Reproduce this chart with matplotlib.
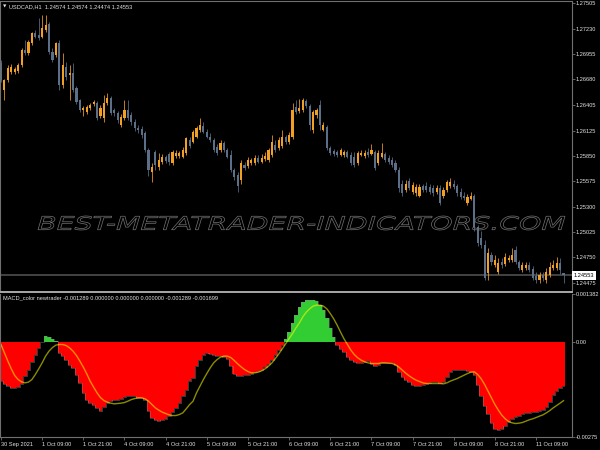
# encoding: utf-8
"""
    USDCAD H1 chart with the MACD_color newtrader sub window,
    drawn in the look of a MetaTrader 4 screenshot.
"""
import matplotlib
matplotlib.use('Agg')
import matplotlib.pyplot as plt
import numpy as np
from matplotlib.font_manager import FontProperties
from matplotlib.lines import Line2D
from matplotlib.patches import PathPatch
from matplotlib.textpath import TextPath
from matplotlib.transforms import Affine2D

# --- price bars (H1), oldest first --------------------------------------
opens = [
    1.2686, 1.2656, 1.2667, 1.2676, 1.2676, 1.2677, 1.2684, 1.2700, 1.2697, 1.2707,
    1.2718, 1.2716, 1.2714, 1.2722, 1.2728, 1.2698, 1.2694, 1.2707, 1.2662, 1.2681,
    1.2673, 1.2675, 1.2659, 1.2646, 1.2635, 1.2633, 1.2637, 1.2641, 1.2642, 1.2628,
    1.2626, 1.2642, 1.2648, 1.2635, 1.2632, 1.2618, 1.2626, 1.2635, 1.2629, 1.2622,
    1.2615, 1.2614, 1.2610, 1.2591, 1.2567, 1.2589, 1.2573, 1.2578, 1.2584, 1.2587,
    1.2577, 1.2585, 1.2585, 1.2584, 1.2588, 1.2602, 1.2600, 1.2606, 1.2613, 1.2617,
    1.2611, 1.2606, 1.2602, 1.2595, 1.2591, 1.2599, 1.2591, 1.2586, 1.2570, 1.2564,
    1.2559, 1.2575, 1.2574, 1.2577, 1.2577, 1.2583, 1.2578, 1.2582, 1.2580, 1.2586,
    1.2597, 1.2593, 1.2596, 1.2605, 1.2600, 1.2605, 1.2638, 1.2634, 1.2635, 1.2645,
    1.2639, 1.2613, 1.2629, 1.2640, 1.2613, 1.2616, 1.2593, 1.2590, 1.2589, 1.2586,
    1.2586, 1.2589, 1.2586, 1.2584, 1.2577, 1.2586, 1.2585, 1.2589, 1.2587, 1.2589,
    1.2577, 1.2584, 1.2587, 1.2583, 1.2580, 1.2577, 1.2570, 1.2554, 1.2548, 1.2558,
    1.2546, 1.2545, 1.2542, 1.2552, 1.2552, 1.2551, 1.2550, 1.2546, 1.2550, 1.2542,
    1.2548, 1.2552, 1.2555, 1.2552, 1.2546, 1.2542, 1.2534, 1.2538, 1.2541, 1.2508,
    1.2496, 1.2488, 1.2458, 1.2477, 1.2467, 1.2459, 1.2470, 1.2468, 1.2472, 1.2472,
    1.2483, 1.2470, 1.2461, 1.2463, 1.2467, 1.2462, 1.2455, 1.2450, 1.2456, 1.2450,
    1.2456, 1.2463, 1.2463, 1.2469, 1.24574]
highs = [
    1.2689, 1.2668, 1.2684, 1.2685, 1.2681, 1.2686, 1.2702, 1.2711, 1.2711, 1.2719,
    1.2722, 1.2735, 1.2738, 1.2738, 1.2730, 1.2702, 1.2709, 1.2711, 1.2697, 1.2687,
    1.2684, 1.2686, 1.2661, 1.2647, 1.2639, 1.2640, 1.2642, 1.2646, 1.2645, 1.2640,
    1.2651, 1.2653, 1.2650, 1.2637, 1.2634, 1.2630, 1.2646, 1.2646, 1.2633, 1.2625,
    1.2618, 1.2617, 1.2612, 1.2593, 1.2577, 1.2591, 1.2588, 1.2587, 1.2586, 1.2589,
    1.2591, 1.2591, 1.2590, 1.2595, 1.2606, 1.2605, 1.2613, 1.2617, 1.2626, 1.2622,
    1.2614, 1.2610, 1.2604, 1.2598, 1.2602, 1.2601, 1.2593, 1.2591, 1.2572, 1.2567,
    1.2580, 1.2578, 1.2584, 1.2583, 1.2586, 1.2586, 1.2587, 1.2589, 1.2593, 1.2608,
    1.2602, 1.2605, 1.2613, 1.2608, 1.2611, 1.2642, 1.2646, 1.2647, 1.2648, 1.2647,
    1.2641, 1.2635, 1.2637, 1.2646, 1.2622, 1.2618, 1.2596, 1.2592, 1.2591, 1.2593,
    1.2591, 1.2591, 1.2589, 1.2589, 1.2590, 1.2591, 1.2591, 1.2593, 1.2598, 1.2591,
    1.2591, 1.2599, 1.2589, 1.2586, 1.2584, 1.2580, 1.2573, 1.2559, 1.2559, 1.2561,
    1.2557, 1.2554, 1.2554, 1.2555, 1.2557, 1.2554, 1.2553, 1.2553, 1.2553, 1.2551,
    1.2559, 1.2561, 1.2559, 1.2555, 1.2550, 1.2546, 1.2544, 1.2546, 1.2544, 1.2510,
    1.2504, 1.2494, 1.2485, 1.2481, 1.2477, 1.2474, 1.2474, 1.2480, 1.2477, 1.2485,
    1.2487, 1.2472, 1.2470, 1.2470, 1.2470, 1.2465, 1.2459, 1.2459, 1.2459, 1.2463,
    1.2470, 1.2472, 1.2475, 1.2474, 1.24574]
lows = [
    1.2665, 1.2646, 1.2665, 1.2674, 1.2674, 1.2675, 1.2681, 1.2694, 1.2694, 1.2705,
    1.2713, 1.2711, 1.2713, 1.2719, 1.2696, 1.2687, 1.2692, 1.2656, 1.2659, 1.2667,
    1.2646, 1.2654, 1.2641, 1.2633, 1.2628, 1.2630, 1.2635, 1.2639, 1.2624, 1.2626,
    1.2622, 1.2640, 1.2629, 1.2628, 1.2621, 1.2616, 1.2624, 1.2624, 1.2618, 1.2612,
    1.2610, 1.2604, 1.2589, 1.2563, 1.2557, 1.2570, 1.2570, 1.2576, 1.2577, 1.2575,
    1.2575, 1.2583, 1.2583, 1.2583, 1.2586, 1.2593, 1.2599, 1.2604, 1.2611, 1.2610,
    1.2604, 1.2600, 1.2589, 1.2586, 1.2589, 1.2589, 1.2583, 1.2567, 1.2559, 1.2546,
    1.2555, 1.2570, 1.2572, 1.2575, 1.2575, 1.2577, 1.2577, 1.2579, 1.2578, 1.2584,
    1.2589, 1.2591, 1.2593, 1.2598, 1.2598, 1.2603, 1.2630, 1.2632, 1.2633, 1.2637,
    1.2613, 1.2610, 1.2626, 1.2613, 1.2612, 1.2591, 1.2586, 1.2585, 1.2584, 1.2585,
    1.2584, 1.2583, 1.2575, 1.2573, 1.2575, 1.2585, 1.2583, 1.2584, 1.2586, 1.2570,
    1.2575, 1.2583, 1.2578, 1.2576, 1.2573, 1.2567, 1.2546, 1.2542, 1.2546, 1.2548,
    1.2544, 1.2542, 1.2540, 1.2546, 1.2546, 1.2544, 1.2541, 1.2544, 1.2532, 1.2539,
    1.2546, 1.2550, 1.2549, 1.2542, 1.2538, 1.2537, 1.2532, 1.2537, 1.2504, 1.2487,
    1.2485, 1.2450, 1.2450, 1.2467, 1.2464, 1.2457, 1.2463, 1.2465, 1.2470, 1.2470,
    1.2468, 1.2461, 1.2459, 1.2461, 1.2459, 1.2450, 1.2447, 1.2447, 1.2449, 1.2447,
    1.2454, 1.2461, 1.2461, 1.2457, 1.24474]
closes = [
    1.2667, 1.2667, 1.2680, 1.2681, 1.2679, 1.2684, 1.2700, 1.2697, 1.2709, 1.2718,
    1.2714, 1.2713, 1.2724, 1.2727, 1.2698, 1.2689, 1.2707, 1.2662, 1.2684, 1.2671,
    1.2675, 1.2656, 1.2643, 1.2635, 1.2637, 1.2638, 1.2640, 1.2643, 1.2626, 1.2637,
    1.2642, 1.2648, 1.2632, 1.2632, 1.2624, 1.2627, 1.2635, 1.2626, 1.2622, 1.2615,
    1.2613, 1.2608, 1.2591, 1.2570, 1.2573, 1.2575, 1.2580, 1.2584, 1.2579, 1.2578,
    1.2589, 1.2588, 1.2588, 1.2591, 1.2604, 1.2596, 1.2611, 1.2615, 1.2618, 1.2611,
    1.2606, 1.2602, 1.2591, 1.2588, 1.2599, 1.2591, 1.2584, 1.2570, 1.2562, 1.2552,
    1.2577, 1.2572, 1.2580, 1.2580, 1.2583, 1.2578, 1.2583, 1.2585, 1.2591, 1.2600,
    1.2591, 1.2602, 1.2605, 1.2600, 1.2608, 1.2635, 1.2633, 1.2637, 1.2646, 1.2639,
    1.2618, 1.2633, 1.2635, 1.2618, 1.2618, 1.2593, 1.2588, 1.2587, 1.2586, 1.2591,
    1.2589, 1.2584, 1.2577, 1.2575, 1.2588, 1.2588, 1.2588, 1.2586, 1.2591, 1.2572,
    1.2588, 1.2588, 1.2580, 1.2578, 1.2575, 1.2570, 1.2550, 1.2545, 1.2554, 1.2550,
    1.2553, 1.2551, 1.2551, 1.2548, 1.2548, 1.2546, 1.2545, 1.2550, 1.2534, 1.2548,
    1.2557, 1.2557, 1.2551, 1.2545, 1.2540, 1.2539, 1.2540, 1.2542, 1.2508, 1.2490,
    1.2488, 1.2452, 1.2480, 1.2470, 1.2472, 1.2469, 1.2467, 1.2475, 1.2474, 1.2477,
    1.2470, 1.2463, 1.2467, 1.2467, 1.2461, 1.2452, 1.2450, 1.2456, 1.2452, 1.2459,
    1.2464, 1.2467, 1.2469, 1.2461, 1.24553]

# --- MACD_color newtrader: histogram and signal ---------------------------
hist = [
    -0.001136, -0.001205, -0.001280, -0.001321, -0.001329, -0.001309, -0.001205, -0.000991, -0.000801, -0.000578,
    -0.000367, -0.000173, -0.000009, 0.000182, 0.000136, 0.000087, 0.000038, -0.000318, -0.000413, -0.000512,
    -0.000656, -0.000751, -0.000945, -0.001185, -0.001474, -0.001668, -0.001763, -0.001812, -0.001908, -0.001986,
    -0.001879, -0.001763, -0.001714, -0.001685, -0.001685, -0.001647, -0.001590, -0.001552, -0.001552, -0.001569,
    -0.001610, -0.001627, -0.001685, -0.002003, -0.002197, -0.002263, -0.002283, -0.002263, -0.002217, -0.002147,
    -0.002032, -0.001908, -0.001763, -0.001569, -0.001379, -0.001136, -0.001040, -0.000702, -0.000512, -0.000376,
    -0.000318, -0.000338, -0.000376, -0.000413, -0.000413, -0.000434, -0.000491, -0.000702, -0.000925, -0.000991,
    -0.000983, -0.000962, -0.000945, -0.000916, -0.000876, -0.000847, -0.000801, -0.000731, -0.000636, -0.000512,
    -0.000367, -0.000223, -0.000078, 0.000087, 0.000280, 0.000549, 0.000789, 0.001012, 0.001147, 0.001205,
    0.001205, 0.001205, 0.001176, 0.001078, 0.000916, 0.000694, 0.000405, 0.000145, -0.000078, -0.000202,
    -0.000298, -0.000434, -0.000529, -0.000578, -0.000607, -0.000607, -0.000587, -0.000558, -0.000645, -0.000685,
    -0.000656, -0.000616, -0.000607, -0.000607, -0.000616, -0.000656, -0.000867, -0.001012, -0.001090, -0.001165,
    -0.001243, -0.001280, -0.001280, -0.001251, -0.001223, -0.001194, -0.001165, -0.001165, -0.001176, -0.001147,
    -0.001012, -0.000876, -0.000809, -0.000801, -0.000801, -0.000818, -0.000829, -0.000858, -0.000945, -0.001234,
    -0.001552, -0.001858, -0.002072, -0.002341, -0.002514, -0.002552, -0.002514, -0.002436, -0.002321, -0.002217,
    -0.002176, -0.002139, -0.002090, -0.002061, -0.002052, -0.002032, -0.002014, -0.001994, -0.001957, -0.001870,
    -0.001725, -0.001540, -0.001408, -0.001329, -0.001289]
signal = [
    -0.000078, -0.000318, -0.000558, -0.000780, -0.000974, -0.001090, -0.001156, -0.001185, -0.001165, -0.001090,
    -0.000945, -0.000780, -0.000607, -0.000413, -0.000269, -0.000165, -0.000095, -0.000078, -0.000078, -0.000107,
    -0.000173, -0.000269, -0.000396, -0.000558, -0.000731, -0.000925, -0.001136, -0.001309, -0.001474, -0.001610,
    -0.001697, -0.001743, -0.001772, -0.001792, -0.001783, -0.001772, -0.001754, -0.001714, -0.001668, -0.001639,
    -0.001618, -0.001618, -0.001647, -0.001714, -0.001812, -0.001908, -0.001974, -0.002032, -0.002072, -0.002110,
    -0.002130, -0.002130, -0.002101, -0.002052, -0.001936, -0.001812, -0.001714, -0.001474, -0.001280, -0.001090,
    -0.000916, -0.000751, -0.000607, -0.000512, -0.000442, -0.000413, -0.000413, -0.000454, -0.000540, -0.000636,
    -0.000723, -0.000801, -0.000858, -0.000896, -0.000896, -0.000876, -0.000838, -0.000780, -0.000702, -0.000607,
    -0.000483, -0.000347, -0.000202, -0.000058, 0.000095, 0.000240, 0.000405, 0.000549, 0.000723, 0.000858,
    0.000954, 0.001032, 0.001061, 0.001061, 0.001032, 0.000954, 0.000818, 0.000665, 0.000483, 0.000280,
    0.000087, -0.000078, -0.000240, -0.000367, -0.000462, -0.000529, -0.000578, -0.000607, -0.000627, -0.000627,
    -0.000627, -0.000607, -0.000607, -0.000616, -0.000627, -0.000665, -0.000731, -0.000818, -0.000905, -0.000983,
    -0.001049, -0.001107, -0.001147, -0.001185, -0.001205, -0.001205, -0.001205, -0.001205, -0.001205, -0.001214,
    -0.001185, -0.001136, -0.001098, -0.001061, -0.001012, -0.000962, -0.000916, -0.000876, -0.000867, -0.000945,
    -0.001069, -0.001234, -0.001425, -0.001618, -0.001812, -0.001974, -0.002118, -0.002225, -0.002303, -0.002341,
    -0.002361, -0.002350, -0.002332, -0.002292, -0.002254, -0.002225, -0.002188, -0.002147, -0.002110, -0.002052,
    -0.001986, -0.001908, -0.001841, -0.001772, -0.001699]

time_labels = ['30 Sep 2021', '1 Oct 09:00', '1 Oct 21:00', '4 Oct 09:00', '4 Oct 21:00',
               '5 Oct 09:00', '5 Oct 21:00', '6 Oct 09:00', '6 Oct 21:00', '7 Oct 09:00',
               '7 Oct 21:00', '8 Oct 09:00', '8 Oct 21:00', '11 Oct 09:00']
price_ticks = [1.27505, 1.27230, 1.26955, 1.26680, 1.26405, 1.26125,
               1.25850, 1.25575, 1.25300, 1.25025, 1.24750, 1.24475]
macd_ticks = [0.001382, 0.0, -0.00275]
macd_tick_labels = ['0.001382', '0.00', '-0.00275']
bid = 1.24553

UP, DOWN = '#f2a024', '#5b6f88'
FRAME = '#707070'
TEXT = '#e4e4e4'
FS = 4.1
FONT = ['Liberation Sans', 'DejaVu Sans']
W, H = 600.0, 450.0


def box(x0, y0, x1, y1):
    """Axes rectangle from a pixel box measured from the top left corner."""
    return [x0 / W, 1 - y1 / H, (x1 - x0) / W, (y1 - y0) / H]


plt.rcParams['font.family'] = FONT
fig = plt.figure(figsize=(6, 4.5), dpi=100, facecolor='black')

ax1 = fig.add_axes(box(0, 1, 572, 290), facecolor='black')
ax2 = fig.add_axes(box(0, 294, 572, 437), facecolor='black', sharex=ax1)

x = np.arange(len(closes))
o, h, l, c = map(np.asarray, (opens, highs, lows, closes))
up = c >= o
colors = np.where(up, UP, DOWN)

# candles: wick first, body on top
ax1.vlines(x, l, h, colors=colors, linewidth=0.7, alpha=0.8)
body_low = np.minimum(o, c)
body_h = np.maximum(np.abs(c - o), 0.00008)
ax1.bar(x, body_h, bottom=body_low, width=0.62, color=colors, linewidth=0)

ax1.axhline(bid, color='#555555', linewidth=1.1, zorder=0.5)
ax1.text(1.003, bid, '%.5f' % bid, transform=ax1.get_yaxis_transform(),
         ha='left', va='center', fontsize=FS, color='black', clip_on=False,
         bbox=dict(boxstyle='square,pad=0.3', fc='white', ec='none'))

ax1.set_ylim(1.24395, 1.27530)
ax1.set_yticks(price_ticks)
ax1.set_yticklabels(['%.5f' % p for p in price_ticks])

# histogram and signal line
hist_colors = ['#32cd32' if v > 0 else '#ff0000' for v in hist]
ax2.bar(x, hist, width=1.02, color=hist_colors, linewidth=0)
ax2.step(x, hist, where='mid', color='#8a8a8a', linewidth=0.5, alpha=0.6)
ax2.plot(x, signal, color='#ffff00', linewidth=1.0, alpha=0.55)
ax2.set_ylim(-0.00275, 0.001382)
ax2.set_yticks(macd_ticks)
ax2.set_yticklabels(macd_tick_labels)
labs = ax2.get_yticklabels()
labs[0].set_va('top')
labs[-1].set_va('bottom')

ax2.set_xlim(-1 / 3.43, 571 / 3.43)
ax2.set_xticks(np.arange(len(time_labels)) * 12)
ax2.set_xticklabels(time_labels)
for lab in ax2.get_xticklabels():
    lab.set_ha('left')

for ax in (ax1, ax2):
    ax.yaxis.tick_right()
    ax.tick_params(axis='y', colors=FRAME, labelcolor=TEXT, labelsize=FS,
                   length=1.8, width=0.6, pad=0.6)
    for side in ('left', 'right', 'top', 'bottom'):
        ax.spines[side].set_color(FRAME)
        ax.spines[side].set_linewidth(0.8)
ax1.tick_params(axis='x', bottom=False, labelbottom=False)
ax2.tick_params(axis='x', colors=FRAME, labelcolor=TEXT, labelsize=FS,
                length=2.5, width=0.6, pad=1.2)
ax1.spines['bottom'].set_visible(False)
ax2.spines['top'].set_visible(False)

# separator between the two windows
fig.add_artist(Line2D([0, 572 / W], [1 - 292 / H] * 2, color='#a8a8a8',
                      linewidth=1.4, transform=fig.transFigure))

fig.text(3 / W, 1 - 6.5 / H, '\u25bc', fontsize=3.2, color=TEXT, va='center',
         family='DejaVu Sans')
fig.text(9 / W, 1 - 6.5 / H, 'USDCAD,H1  1.24574 1.24574 1.24474 1.24553',
         fontsize=FS, color=TEXT, va='center')
fig.text(3 / W, 1 - 298 / H,
         'MACD_color newtrader -0.001289 0.000000 0.000000 0.000000 -0.001289 -0.001699',
         fontsize=FS, color=TEXT, va='center')

# watermark, outlined italic letters across the price window
tp = TextPath((0, 0), 'BEST-METATRADER-INDICATORS.COM', size=10,
              prop=FontProperties(family='DejaVu Sans', style='oblique'))
ext = tp.get_extents()
to_px = (Affine2D().translate(-ext.x0, -ext.y0)
         .scale(527 / ext.width, 14 / ext.height)
         .translate(38, H - 230))
fig.add_artist(PathPatch(tp, transform=to_px, facecolor='none',
                         edgecolor='#747474', linewidth=0.5, zorder=5))

fig.savefig('out.png', dpi=100, facecolor='black')
